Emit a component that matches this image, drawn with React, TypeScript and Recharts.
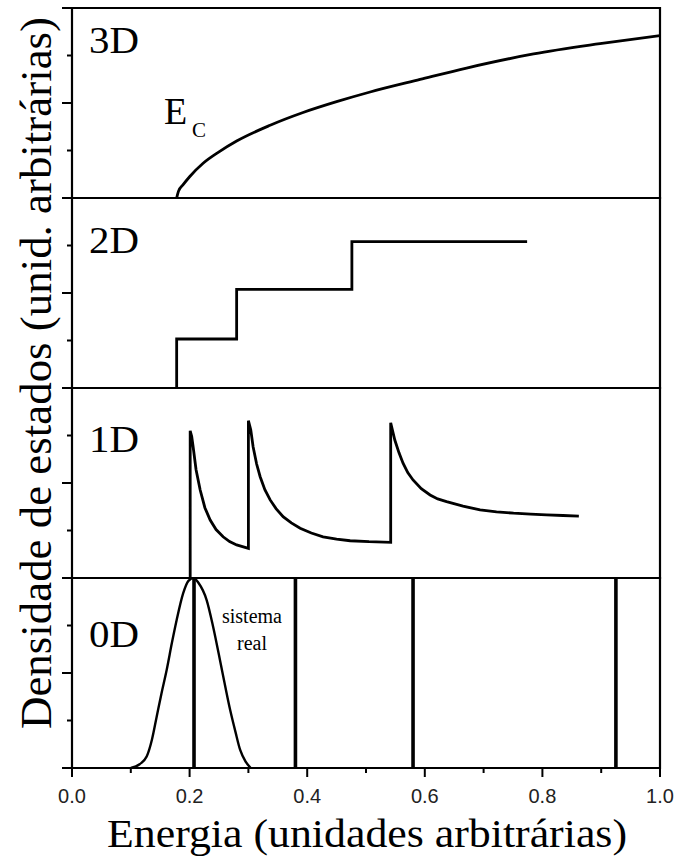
import React from 'react';
import { LineChart, Line, XAxis, YAxis, ReferenceArea, ReferenceLine } from 'recharts';

// ---------- data ----------
const xTicks = [0, 0.1, 0.2, 0.3, 0.4, 0.5, 0.6, 0.7, 0.8, 0.9, 1.0];
const xMajorTicks = [0, 0.2, 0.4, 0.6, 0.8, 1.0];
const xTickLabels = ['0.0', '0.2', '0.4', '0.6', '0.8', '1.0'];
const yTicks = [0, 0.25, 0.5, 0.75, 1];
const yMajorTicks = [0, 0.5, 1];

const panelLabels = ['3D', '2D', '1D', '0D'];

const dos3D = [
  { x: 0.178, y: 0 }, { x: 0.181, y: 0.035 }, { x: 0.189, y: 0.07 }, { x: 0.2, y: 0.112 },
  { x: 0.223, y: 0.183 }, { x: 0.25, y: 0.243 }, { x: 0.28, y: 0.3 }, { x: 0.337, y: 0.383 },
  { x: 0.393, y: 0.45 }, { x: 0.45, y: 0.507 }, { x: 0.507, y: 0.558 }, { x: 0.592, y: 0.624 },
  { x: 0.671, y: 0.684 }, { x: 0.785, y: 0.758 }, { x: 0.898, y: 0.812 }, { x: 1.0, y: 0.855 },
];

const dos2D = [
  { x: 0.178, y: 0 }, { x: 0.178, y: 0.258 }, { x: 0.28, y: 0.258 }, { x: 0.28, y: 0.519 },
  { x: 0.476, y: 0.519 }, { x: 0.476, y: 0.77 }, { x: 0.774, y: 0.77 },
];

const dos1D = [
  { x: 0.201, y: 0 }, { x: 0.201, y: 0.775 }, { x: 0.2036, y: 0.744 }, { x: 0.206, y: 0.691 },
  { x: 0.211, y: 0.57 }, { x: 0.218, y: 0.463 }, { x: 0.226, y: 0.37 }, { x: 0.235, y: 0.305 },
  { x: 0.245, y: 0.255 }, { x: 0.257, y: 0.217 }, { x: 0.268, y: 0.192 }, { x: 0.28, y: 0.174 },
  { x: 0.3, y: 0.156 }, { x: 0.3, y: 0.828 }, { x: 0.304, y: 0.78 }, { x: 0.308, y: 0.691 },
  { x: 0.314, y: 0.6 }, { x: 0.32, y: 0.533 }, { x: 0.328, y: 0.465 }, { x: 0.337, y: 0.411 },
  { x: 0.347, y: 0.365 }, { x: 0.359, y: 0.323 }, { x: 0.373, y: 0.29 }, { x: 0.388, y: 0.262 },
  { x: 0.407, y: 0.237 }, { x: 0.427, y: 0.217 }, { x: 0.45, y: 0.205 }, { x: 0.473, y: 0.196 },
  { x: 0.505, y: 0.191 }, { x: 0.542, y: 0.188 }, { x: 0.542, y: 0.817 }, { x: 0.549, y: 0.726 },
  { x: 0.556, y: 0.66 }, { x: 0.563, y: 0.604 }, { x: 0.571, y: 0.555 }, { x: 0.58, y: 0.516 },
  { x: 0.594, y: 0.47 }, { x: 0.609, y: 0.437 }, { x: 0.622, y: 0.416 }, { x: 0.637, y: 0.402 },
  { x: 0.665, y: 0.378 }, { x: 0.694, y: 0.358 }, { x: 0.722, y: 0.348 }, { x: 0.751, y: 0.341 },
  { x: 0.78, y: 0.336 }, { x: 0.807, y: 0.332 }, { x: 0.835, y: 0.329 }, { x: 0.862, y: 0.326 },
];

const dos0DReal = [
  { x: 0.1, y: 0 }, { x: 0.115, y: 0.02 }, { x: 0.127, y: 0.06 }, { x: 0.136, y: 0.15 },
  { x: 0.144, y: 0.27 }, { x: 0.152, y: 0.39 }, { x: 0.161, y: 0.516 }, { x: 0.17, y: 0.66 },
  { x: 0.178, y: 0.779 }, { x: 0.189, y: 0.919 }, { x: 0.198, y: 0.985 }, { x: 0.207, y: 1.0 },
  { x: 0.215, y: 0.975 }, { x: 0.229, y: 0.884 }, { x: 0.24, y: 0.744 }, { x: 0.255, y: 0.516 },
  { x: 0.269, y: 0.305 }, { x: 0.278, y: 0.19 }, { x: 0.286, y: 0.095 }, { x: 0.295, y: 0.035 },
  { x: 0.304, y: 0 },
];

const dos0DLevels = [0.2075, 0.38, 0.58, 0.925];

// ---------- layout ----------
const W = 676;
const PANEL_TOPS = [8, 198, 388, 578];
const PANEL_H = 190;
const M = 2;
const BOTTOM_AXIS_H = 60;

const near = (a: number, b: number) => Math.abs(a - b) < 1e-6;
const isMajorX = (v: number) => xMajorTicks.some((m) => near(m, v));

function TopTick(props: any) {
  const { x, y, payload } = props;
  const len = isMajorX(payload.value) ? 10 : 6;
  return <line x1={x} x2={x} y1={y} y2={y + len} stroke="#000" strokeWidth={2} />;
}

function BottomTick(props: any) {
  const { x, y, payload } = props;
  const idx = xMajorTicks.findIndex((m) => near(m, payload.value));
  const major = idx >= 0;
  const len = major ? 9 : 5;
  return (
    <g>
      <line x1={x} x2={x} y1={y} y2={y + len} stroke="#000" strokeWidth={2} />
      {major && (
        <text
          x={x}
          y={y + 35}
          textAnchor="middle"
          fontFamily="'Liberation Sans', Arial, sans-serif"
          fontSize={20}
          fill="#222"
        >
          {xTickLabels[idx]}
        </text>
      )}
    </g>
  );
}

function LeftTick(props: any) {
  const { x, y, payload } = props;
  const major = yMajorTicks.some((m) => near(m, payload.value));
  const len = major ? 10 : 5;
  return <line x1={x - len} x2={x} y1={y} y2={y} stroke="#000" strokeWidth={2} />;
}

function Panel({ index }: { index: number }) {
  const isLast = index === 3;
  const hasTop = index > 0;
  const height = M + PANEL_H + (isLast ? BOTTOM_AXIS_H : M);
  const data = [dos3D, dos2D, dos1D, dos0DReal][index];
  const curveType = index === 1 || index === 2 ? 'linear' : 'monotone';
  return (
    <div style={{ position: 'absolute', left: 0, top: PANEL_TOPS[index] - M }}>
      <LineChart
        width={W}
        height={height}
        data={data}
        margin={{ top: M, right: 16, bottom: isLast ? 0 : M, left: 0 }}
      >
        <XAxis xAxisId="x" dataKey="x" type="number" domain={[0, 1]} hide allowDataOverflow />
        {hasTop && (
          <XAxis
            xAxisId="top"
            orientation="top"
            dataKey="x"
            type="number"
            domain={[0, 1]}
            ticks={xTicks}
            interval={0}
            height={0}
            tickSize={0}
            tickMargin={0}
            axisLine={false}
            tickLine={false}
            tick={TopTick}
            allowDataOverflow
          />
        )}
        {isLast && (
          <XAxis
            xAxisId="bottom"
            orientation="bottom"
            dataKey="x"
            type="number"
            domain={[0, 1]}
            ticks={xTicks}
            interval={0}
            height={BOTTOM_AXIS_H}
            tickSize={0}
            tickMargin={0}
            axisLine={false}
            tickLine={false}
            tick={BottomTick}
            allowDataOverflow
          />
        )}
        <YAxis
          yAxisId="y"
          type="number"
          domain={[0, 1]}
          ticks={yTicks}
          interval={0}
          width={72}
          tickSize={0}
          tickMargin={0}
          axisLine={false}
          tickLine={false}
          tick={LeftTick}
          allowDataOverflow
        />
        <ReferenceArea
          xAxisId="x"
          yAxisId="y"
          x1={0}
          x2={1}
          y1={0}
          y2={1}
          fill="none"
          fillOpacity={0}
          stroke="#000"
          strokeWidth={2.2}
          ifOverflow="visible"
        />
        {isLast &&
          dos0DLevels.map((v) => (
            <ReferenceLine
              key={v}
              xAxisId="x"
              yAxisId="y"
              x={v}
              stroke="#000"
              strokeWidth={3.6}
              ifOverflow="visible"
            />
          ))}
        <Line
          xAxisId="x"
          yAxisId="y"
          dataKey="y"
          type={curveType as any}
          dot={false}
          activeDot={false}
          stroke="#000"
          strokeWidth={isLast ? 2.4 : 2.8}
          isAnimationActive={false}
        />
      </LineChart>
    </div>
  );
}

const serif = "'Liberation Serif', 'Times New Roman', serif";
const panelLabelBaselines = [53, 253, 452, 647];

export default function App() {
  return (
    <div style={{ position: 'absolute', left: 0, top: 0, width: W, height: 856, background: '#fff' }}>
      {[0, 1, 2, 3].map((i) => (
        <Panel key={i} index={i} />
      ))}
      <svg
        width={W}
        height={856}
        style={{ position: 'absolute', left: 0, top: 0, pointerEvents: 'none' }}
      >
        {panelLabels.map((t, i) => (
          <text
            key={t}
            x={89}
            y={panelLabelBaselines[i]}
            fontFamily={serif}
            fontSize={38}
            textLength={50}
            lengthAdjust="spacingAndGlyphs"
            fill="#000"
          >
            {t}
          </text>
        ))}
        <text x={164} y={124} fontFamily={serif} fontSize={38} fill="#000">E</text>
        <text x={192} y={137} fontFamily={serif} fontSize={21} fill="#000">C</text>
        <text x={252} y={623} textAnchor="middle" fontFamily={serif} fontSize={20} fill="#000">sistema</text>
        <text x={252} y={650} textAnchor="middle" fontFamily={serif} fontSize={20} fill="#000">real</text>
        <text
          x={367}
          y={847}
          textAnchor="middle"
          fontFamily={serif}
          fontSize={41}
          textLength={520}
          lengthAdjust="spacingAndGlyphs"
          fill="#000"
        >
          Energia (unidades arbitrárias)
        </text>
        <text
          transform="translate(51,373) rotate(-90)"
          textAnchor="middle"
          fontFamily={serif}
          fontSize={44}
          textLength={712}
          lengthAdjust="spacingAndGlyphs"
          fill="#000"
        >
          Densidade de estados (unid. arbitrárias)
        </text>
      </svg>
    </div>
  );
}
